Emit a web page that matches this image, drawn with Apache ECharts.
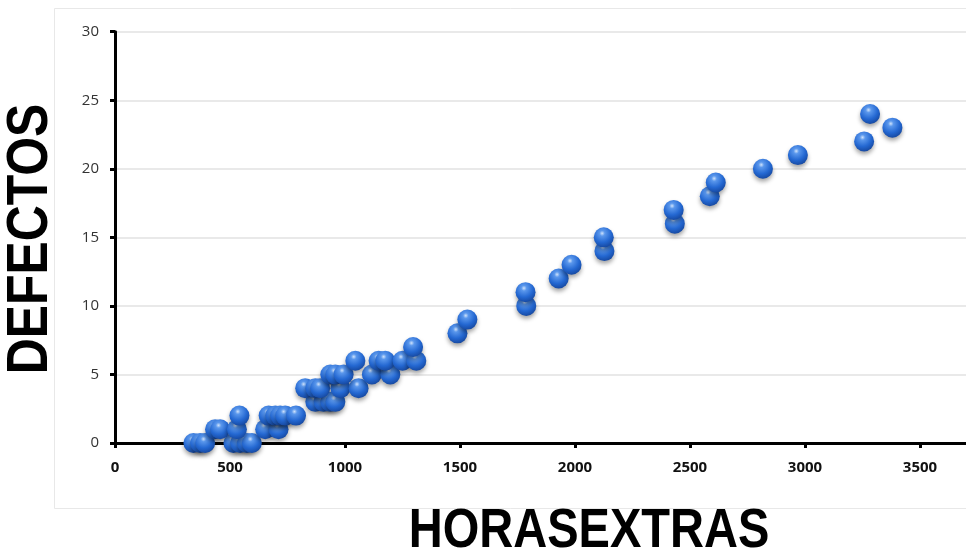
<!DOCTYPE html>
<html>
<head>
<meta charset="utf-8">
<title>Defectos vs Horas extras</title>
<script src="https://cdn.jsdelivr.net/npm/echarts@6/dist/echarts.min.js"></script>
<style>
  html, body { margin: 0; padding: 0; background: #fff; }
  #main { width: 966px; height: 557px; }
</style>
</head>
<body>
<div id="main"></div>
<script>
// horas extras (x) y defectos (y)
const horasExtras = [
  341, 370, 392, 515, 544, 573, 595,
  435, 457, 530, 653, 711,
  541, 668, 697, 718, 740, 787,
  871, 907, 936, 958,
  827, 871, 892, 980, 1059,
  936, 958, 994, 1117, 1197,
  1045, 1146, 1175, 1250, 1310,
  1296, 1489, 1532, 1788, 1785, 1929, 1985, 2128, 2125,
  2434, 2429, 2586, 2612, 2817, 2969, 3257, 3380, 3283
];
const defectos = [
  0, 0, 0, 0, 0, 0, 0,
  1, 1, 1, 1, 1,
  2, 2, 2, 2, 2, 2,
  3, 3, 3, 3,
  4, 4, 4, 4, 4,
  5, 5, 5, 5, 5,
  6, 6, 6, 6, 6,
  7, 8, 9, 10, 11, 12, 13, 14, 15,
  16, 17, 18, 19, 20, 21, 22, 23, 24
];
const xTicks = [0, 3700, 500];
const yTicks = [0, 30, 5];

const points = horasExtras.map((h, i) => [h, defectos[i]]);

const chart = echarts.init(document.getElementById("main"));

const option = {
  backgroundColor: "#ffffff",
  animation: false,
  grid: {
    left: 115,
    right: 0,
    top: 31.7,
    bottom: 114,
  },
  xAxis: {
    type: "value",
    min: xTicks[0],
    max: xTicks[1],
    interval: xTicks[2],
    axisLine: { lineStyle: { color: "#000", width: 3 } },
    axisTick: { show: true, length: 5, lineStyle: { color: "#000", width: 3 } },
    axisLabel: {
      showMaxLabel: false,
      margin: 17,
      color: "#111",
      fontFamily: "Open Sans",
      fontWeight: "bold",
      fontSize: 15,
      formatter: (v) => String(v),
    },
    splitLine: { show: false },
  },
  yAxis: {
    type: "value",
    min: yTicks[0],
    max: yTicks[1],
    interval: yTicks[2],
    axisLine: { show: true, lineStyle: { color: "#000", width: 3 } },
    axisTick: { show: true, length: 5, lineStyle: { color: "#000", width: 3 } },
    axisLabel: {
      margin: 16,
      color: "#333",
      fontFamily: "Open Sans",
      fontSize: 15,
    },
    splitLine: { lineStyle: { color: "#e2e2e2", width: 1.5 } },
  },
  graphic: [
    {
      type: "rect",
      z: -1,
      shape: { x: 54.5, y: 8.5, width: 930, height: 500 },
      style: { fill: "none", stroke: "#e8e8e8", lineWidth: 1 },
    },
    {
      type: "text",
      x: 31,
      y: 239,
      rotation: Math.PI / 2,
      scaleX: 0.86,
      style: {
        text: "DEFECTOS",
        font: "bold 58px 'Liberation Sans'",
        fill: "#000",
        align: "center",
        verticalAlign: "middle",
        shadowBlur: 5,
        shadowColor: "rgba(0,0,0,0.45)",
        shadowOffsetX: 3,
        shadowOffsetY: 0,
      },
    },
    {
      type: "text",
      x: 589,
      y: 532,
      scaleX: 0.84,
      style: {
        text: "HORASEXTRAS",
        font: "bold 56px 'Liberation Sans'",
        fill: "#000",
        align: "center",
        verticalAlign: "middle",
        shadowBlur: 5,
        shadowColor: "rgba(0,0,0,0.45)",
        shadowOffsetY: 3,
      },
    },
  ],
  series: [
    {
      type: "scatter",
      data: points,
      symbolSize: 20,
      itemStyle: {
        opacity: 1,
        color: new echarts.graphic.RadialGradient(0.42, 0.3, 0.75, [
          { offset: 0, color: "#cfe3fc" },
          { offset: 0.18, color: "#5a97ec" },
          { offset: 0.6, color: "#2468d2" },
          { offset: 1, color: "#14449a" },
        ]),
        shadowBlur: 4,
        shadowOffsetY: 3,
        shadowColor: "rgba(0,0,0,0.35)",
      },
    },
  ],
};

option && chart.setOption(option);
</script>
</body>
</html>
